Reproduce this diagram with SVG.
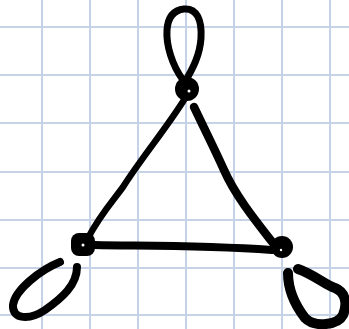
<svg xmlns="http://www.w3.org/2000/svg" width="349" height="329" viewBox="0 0 349 329">
<style>
.grid line{stroke:#c6d2e6;stroke-width:2}
.ink{fill:none;stroke:#000;stroke-linecap:round;stroke-linejoin:round}
</style>
<rect width="349" height="329" fill="#fff"/>
<g class="grid">
<line x1="42" y1="0" x2="42" y2="329"/><line x1="90" y1="0" x2="90" y2="329"/><line x1="138" y1="0" x2="138" y2="329"/><line x1="186" y1="0" x2="186" y2="329"/><line x1="234" y1="0" x2="234" y2="329"/><line x1="282" y1="0" x2="282" y2="329"/><line x1="330" y1="0" x2="330" y2="329"/>
<line x1="0" y1="27" x2="349" y2="27"/><line x1="0" y1="75" x2="349" y2="75"/><line x1="0" y1="123" x2="349" y2="123"/><line x1="0" y1="172" x2="349" y2="172"/><line x1="0" y1="220" x2="349" y2="220"/><line x1="0" y1="268" x2="349" y2="268"/><line x1="0" y1="315" x2="349" y2="315"/>
</g>
<g id="connectors">
<path class="ink" stroke-width="6.5" d="M184,100 C165,130 140,160 123,187 C112,202 100,215 88,238"/>
<path class="ink" stroke-width="8.5" d="M194,107 C205,130 215,150 224,170 C235,195 255,220 273,243"/>
<path class="ink" stroke-width="8" d="M95,245 C140,246 200,245 272,250"/>
<path class="ink" stroke-width="7" d="M183,80 C172,65 166,45 167,30 C168,15 175,10 184,9 C197,8 202,20 201,38 C200,55 193,68 185,82"/>
<path class="ink" stroke-width="8" d="M60,262 C40,270 15,290 13,305 C12,320 30,320 45,310 C62,298 77,285 77,267"/>
<path class="ink" stroke-width="10" d="M288,273 C288,290 295,305 305,318 C315,328 338,325 343,315 C348,303 345,292 335,288 C325,285 315,275 298,269"/>
</g>
<g id="node-top"><circle cx="187" cy="89" r="12" fill="#000"/><circle cx="189" cy="91" r="1.5" fill="#fff"/></g>
<g id="node-left"><rect x="71" y="233" width="24" height="23" rx="8" fill="#000"/><circle cx="83" cy="245" r="1.5" fill="#fff"/></g>
<g id="node-right"><circle cx="282" cy="247" r="11" fill="#000"/><circle cx="281" cy="250" r="1.2" fill="#fff"/></g>
</svg>
